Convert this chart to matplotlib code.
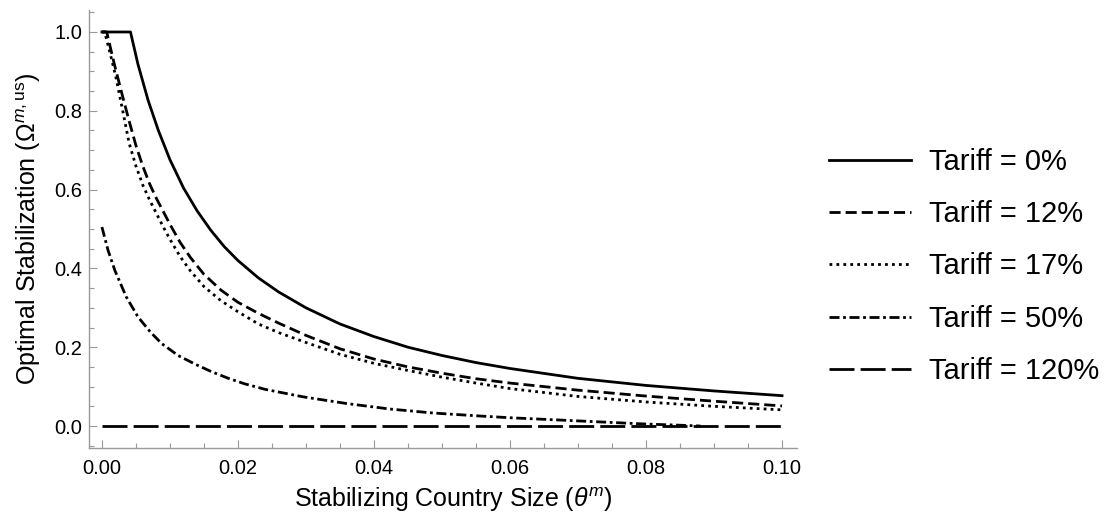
import matplotlib
matplotlib.use("Agg")
import matplotlib.pyplot as plt
from matplotlib.ticker import MultipleLocator, FormatStrFormatter

plt.rcParams['font.family'] = ['Liberation Sans', 'DejaVu Sans']
plt.rcParams['mathtext.fontset'] = 'custom'
plt.rcParams['mathtext.rm'] = 'Liberation Sans'
plt.rcParams['mathtext.it'] = 'Liberation Sans:italic'

# values
theta_0 = [0.0, 0.0042, 0.0053, 0.0068, 0.0083, 0.0100, 0.0120, 0.0140, 0.0160, 0.0180,
           0.0200, 0.0230, 0.0260, 0.0300, 0.0350, 0.0400, 0.0450, 0.0500, 0.0550,
           0.0600, 0.0700, 0.0800, 0.0900, 0.1000]
omega_0 = [1.0, 1.0, 0.918, 0.826, 0.750, 0.676, 0.604, 0.546, 0.497, 0.455,
           0.420, 0.376, 0.340, 0.300, 0.259, 0.227, 0.200, 0.179, 0.161,
           0.146, 0.121, 0.103, 0.089, 0.077]

theta_12 = [0.0, 0.0007, 0.0018, 0.0029, 0.0040, 0.0050, 0.0060, 0.0070, 0.0080, 0.0090,
            0.0100, 0.0115, 0.0130, 0.0150, 0.0175, 0.0200, 0.0230, 0.0260, 0.0300,
            0.0350, 0.0400, 0.0450, 0.0500, 0.0550, 0.0600, 0.0700, 0.0800, 0.0900, 0.1000]
omega_12 = [1.0, 1.0, 0.92, 0.846, 0.774, 0.712, 0.660, 0.615, 0.578, 0.545,
            0.512, 0.466, 0.428, 0.385, 0.345, 0.314, 0.286, 0.261, 0.230,
            0.196, 0.170, 0.150, 0.134, 0.120, 0.109, 0.091, 0.076, 0.063, 0.051]

theta_17 = [0.0, 0.0004, 0.0010, 0.0020, 0.0030, 0.0040, 0.0050, 0.0060, 0.0070, 0.0080,
            0.0090, 0.0100, 0.0115, 0.0130, 0.0150, 0.0175, 0.0200, 0.0230, 0.0260,
            0.0300, 0.0350, 0.0400, 0.0450, 0.0500, 0.0550, 0.0600, 0.0700, 0.0800,
            0.0900, 0.1000]
omega_17 = [1.0, 1.0, 0.96, 0.89, 0.805, 0.718, 0.660, 0.612, 0.574, 0.540,
            0.506, 0.474, 0.430, 0.394, 0.354, 0.318, 0.290, 0.259, 0.237,
            0.212, 0.182, 0.159, 0.141, 0.124, 0.109, 0.095, 0.075, 0.061,
            0.050, 0.041]

theta_50 = [0.0, 0.0009, 0.0019, 0.0036, 0.0053, 0.0071, 0.0088, 0.0112, 0.0137, 0.0161,
            0.0186, 0.0210, 0.0240, 0.0296, 0.0360, 0.0424, 0.0487, 0.0550, 0.0600,
            0.0650, 0.0700, 0.0750, 0.0800, 0.0850, 0.0880]
omega_50 = [0.505, 0.446, 0.395, 0.327, 0.277, 0.239, 0.209, 0.179, 0.157, 0.138,
            0.121, 0.107, 0.093, 0.074, 0.057, 0.043, 0.033, 0.026, 0.021,
            0.017, 0.013, 0.009, 0.005, 0.002, 0.0]

theta_120 = [0.0, 0.1]
omega_120 = [0.0, 0.0]

labels = ['Tariff = 0%', 'Tariff = 12%', 'Tariff = 17%', 'Tariff = 50%', 'Tariff = 120%']

fig = plt.figure(figsize=(11.05, 5.23), dpi=100)
ax = fig.add_axes([89 / 1105, 1 - 448 / 523, (797 - 89) / 1105, (448 - 10) / 523])

lw = 2.0
ax.plot(theta_0, omega_0, color='black', lw=lw, linestyle='-', label=labels[0])
ax.plot(theta_12, omega_12, color='black', lw=lw, linestyle=(0, (4, 1.8)),
        dash_capstyle='butt', label=labels[1])
ax.plot(theta_17, omega_17, color='black', lw=lw, linestyle=(0, (1, 1.5)),
        dash_capstyle='butt', label=labels[2])
ax.plot(theta_50, omega_50, color='black', lw=lw, linestyle=(0, (3.6, 1.3, 1, 1.3)),
        dash_capstyle='butt', label=labels[3])
ax.plot(theta_120, omega_120, color='black', lw=lw, linestyle=(0, (9, 2.2)),
        dash_capstyle='butt', label=labels[4])

ax.set_xlim(-0.0019, 0.1022)
ax.set_ylim(-0.0558, 1.0558)

ax.xaxis.set_major_locator(MultipleLocator(0.02))
ax.xaxis.set_minor_locator(MultipleLocator(0.005))
ax.yaxis.set_major_locator(MultipleLocator(0.2))
ax.yaxis.set_minor_locator(MultipleLocator(0.05))
ax.xaxis.set_major_formatter(FormatStrFormatter('%.2f'))
ax.yaxis.set_major_formatter(FormatStrFormatter('%.1f'))

for side in ['top', 'right']:
    ax.spines[side].set_visible(False)
for side in ['left', 'bottom']:
    ax.spines[side].set_color('#999999')
    ax.spines[side].set_linewidth(1.0)

ax.tick_params(which='both', direction='in', color='#999999', width=0.8, labelsize=14.5)
ax.tick_params(which='major', length=6)
ax.tick_params(which='minor', length=3.6)
ax.tick_params(axis='x', pad=8)
ax.tick_params(axis='y', pad=5)

ax.set_xlabel(r'Stabilizing Country Size ($\theta^{m}$)', fontsize=18)
ax.set_ylabel(r'Optimal Stabilization ($\Omega^{m,\mathrm{us}}$)', fontsize=18, labelpad=8)
ax.xaxis.set_label_coords(0.515, -0.086)

fig.legend(loc='center left', bbox_to_anchor=(829 / 1105, 1 - 266.5 / 523),
           frameon=False, fontsize=21, handlelength=2.8, handletextpad=0.62,
           labelspacing=0.83, borderpad=0, borderaxespad=0)

fig.savefig('out.png', dpi=100)
